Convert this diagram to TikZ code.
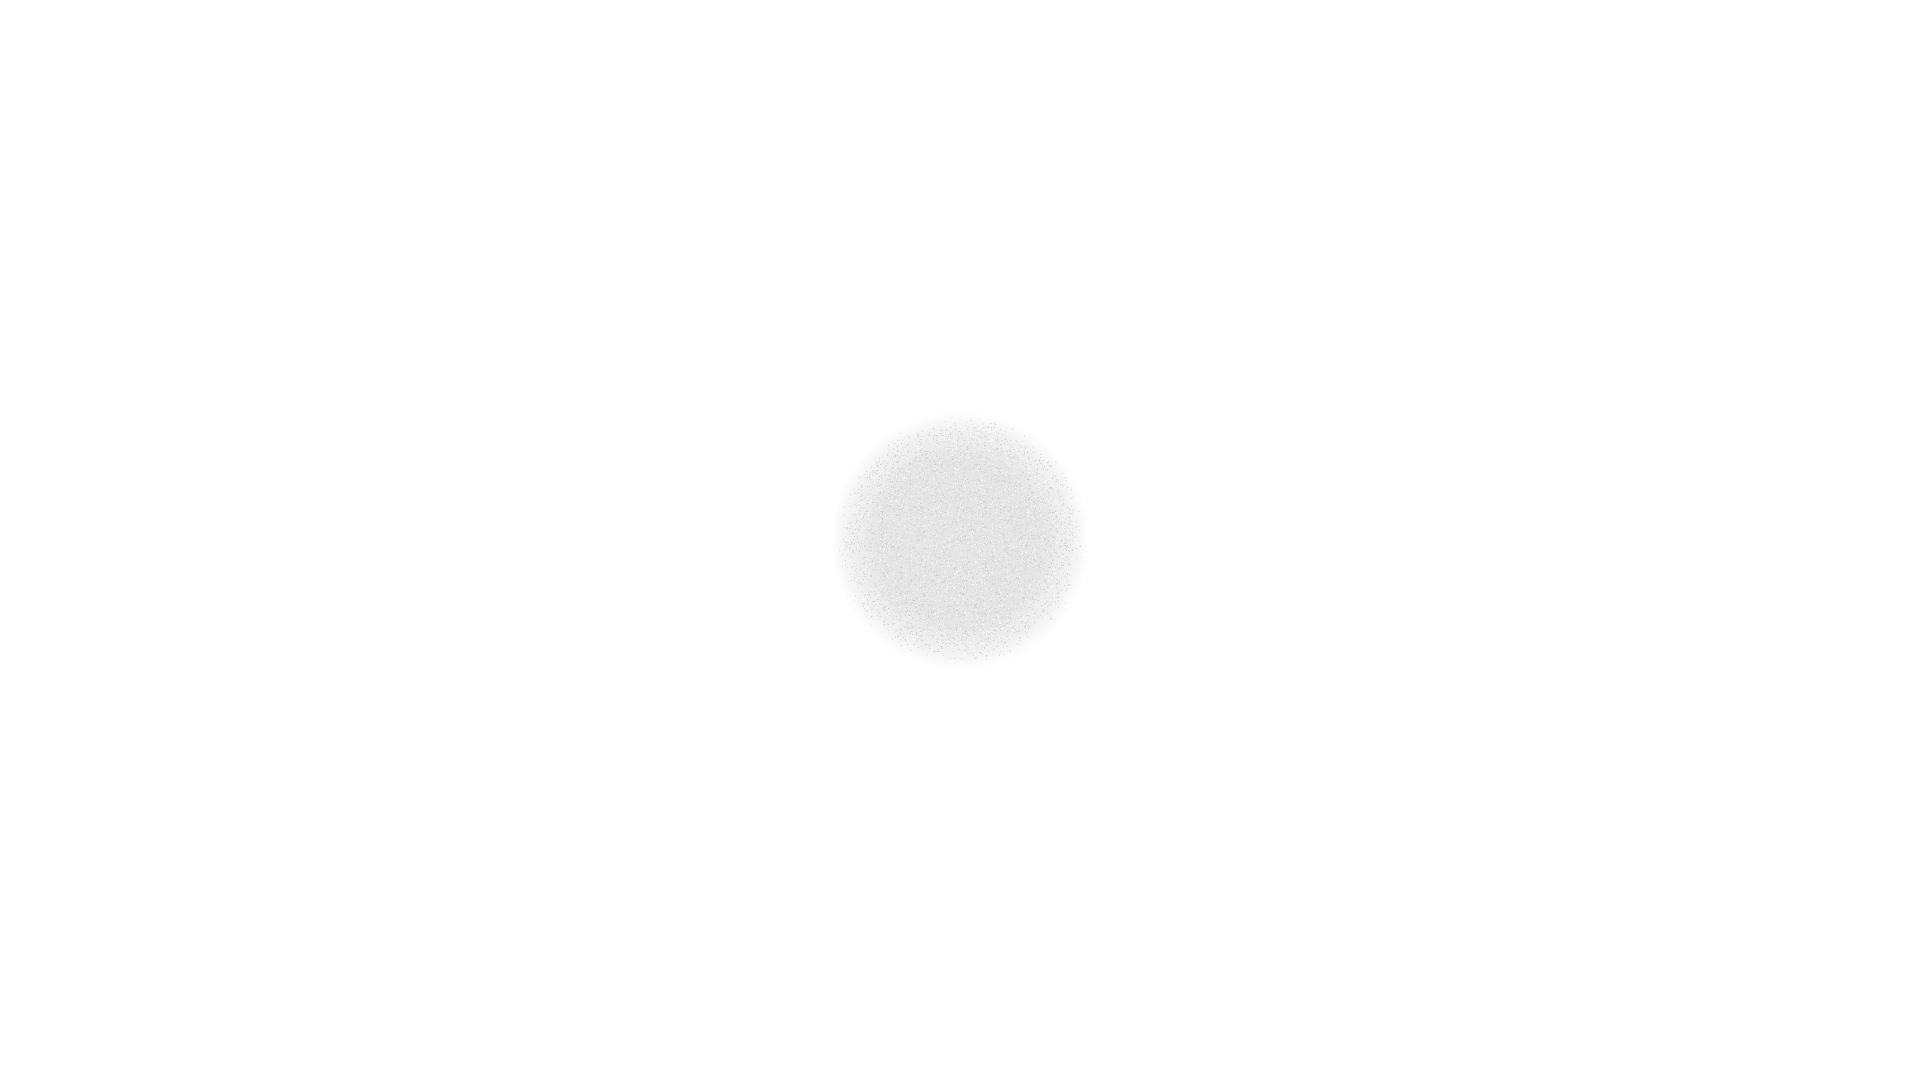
\documentclass[tikz,border=0pt]{standalone}
\usepackage{tikz}

\pgfdeclareradialshading{grainhaze}{\pgfpoint{0bp}{0bp}}{%
  color(0bp)=(black!10); color(16bp)=(black!10); color(21bp)=(black!6);
  color(25bp)=(white); color(50bp)=(white)}

\begin{document}
\begin{tikzpicture}[x=1cm, y=1cm,
    haze/.style={shading=grainhaze},
    speck/.style={fill=black!20},
    gap/.style={fill=white}]

  \useasboundingbox[fill=white] (0,0) rectangle (19.2,10.8);
  \coordinate (centre) at (9.6,5.4);

  % soft grey haze
  \shade[haze] (centre) circle (1.3);

  % grainy speckles, dark and light
  \pgfmathsetseed{42}
  \foreach \i in {1,...,4000}{
    \pgfmathsetmacro{\ang}{360*rnd}
    \pgfmathsetmacro{\rad}{1.16*sqrt(rnd)+0.08*rand}
    \fill[speck] (centre) ++(\ang:\rad) circle (0.005);
  }
  \foreach \i in {1,...,2500}{
    \pgfmathsetmacro{\ang}{360*rnd}
    \pgfmathsetmacro{\rad}{1.1*sqrt(rnd)}
    \fill[gap] (centre) ++(\ang:\rad) circle (0.005);
  }
\end{tikzpicture}
\end{document}
